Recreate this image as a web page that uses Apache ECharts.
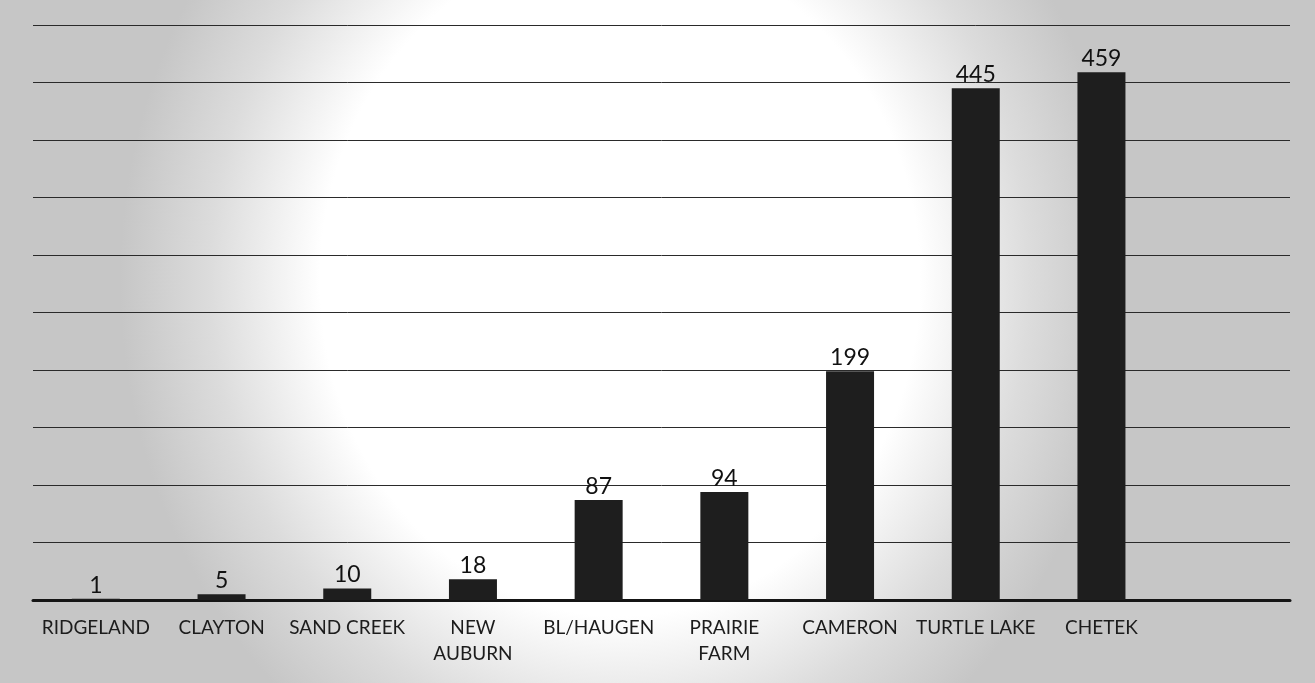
<!DOCTYPE html>
<html>
<head>
<meta charset="utf-8">
<script src="https://cdn.jsdelivr.net/npm/echarts@6/dist/echarts.min.js"></script>
<style>
  html, body { margin: 0; padding: 0; }
  #chart {
    width: 1315px; height: 683px;
    background: radial-gradient(ellipse 500px 560px at 620px 280px, #ffffff 0%, #ffffff 60%, #dcdcdc 82%, #c6c6c6 100%);
  }
</style>
</head>
<body>
<div id="chart"></div>
<script>
const categories = ['RIDGELAND', 'CLAYTON', 'SAND CREEK', 'NEW\nAUBURN', 'BL/HAUGEN', 'PRAIRIE\nFARM', 'CAMERON', 'TURTLE LAKE', 'CHETEK', ''];
const values = [1, 5, 10, 18, 87, 94, 199, 445, 459, null];
const yMin = 0, yMax = 500, yStep = 50;

const chart = echarts.init(document.getElementById('chart'));
chart.setOption({
  backgroundColor: 'transparent',
  animation: false,
  grid: { left: 33, right: 25, top: 25, bottom: 83, containLabel: false },
  xAxis: {
    type: 'category',
    data: categories,
    axisLine: { show: true, lineStyle: { color: '#151515', width: 3 } },
    axisTick: { show: false },
    axisLabel: {
      color: '#1c1c1c', fontFamily: 'Lato', fontSize: 19, margin: 15, lineHeight: 26, interval: 0
    }
  },
  yAxis: {
    type: 'value', min: yMin, max: yMax, interval: yStep,
    axisLine: { show: false }, axisTick: { show: false }, axisLabel: { show: false },
    splitLine: { show: true, lineStyle: { color: '#2a2a2a', width: 1 } }
  },
  series: [{
    type: 'bar',
    data: values,
    barWidth: 48,
    itemStyle: { color: '#1e1e1e' },
    label: {
      show: true, position: 'top', distance: 2,
      color: '#111', fontFamily: 'Lato', fontSize: 23
    }
  }]
});
</script>
</body>
</html>
